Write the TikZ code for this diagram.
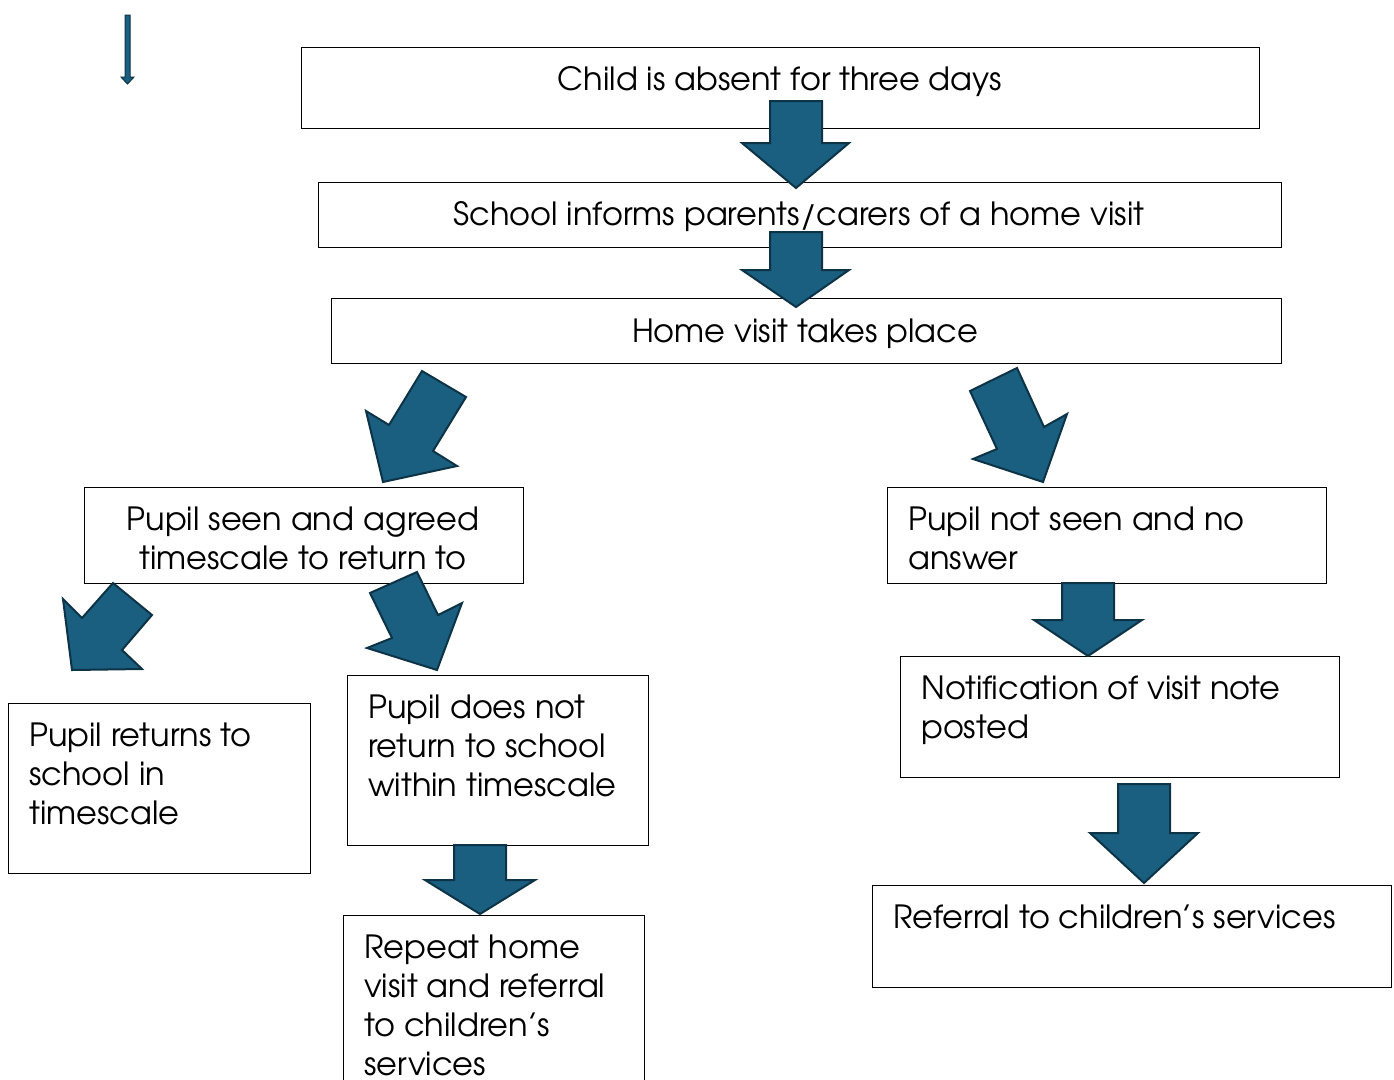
\documentclass[tikz,border=0pt]{standalone}
\usepackage{fontspec}
\setmainfont{texgyreadventor-regular.otf}
\definecolor{arrfill}{HTML}{1A5E80}
\definecolor{arrline}{HTML}{0D3346}
\tikzset{
 box/.style={draw=black, line width=1.2pt, inner sep=0pt, anchor=north west},
 blk/.style={fill=arrfill, draw=arrline, line width=2pt, line join=miter},
 txt/.style={inner sep=0pt, font=\fontsize{32}{39}\selectfont},
}
\newcommand{\ltext}[1]{\begin{tabular}[t]{@{}l@{}}#1\end{tabular}}
\newcommand{\ctext}[1]{\begin{tabular}[t]{@{}c@{}}#1\end{tabular}}
\begin{document}
\begin{tikzpicture}[x=1pt,y=-1pt]
\useasboundingbox (0,0) rectangle (1394,1079);
\clip (0,0) rectangle (1394,1079);
% boxes
\node[box, minimum width=958pt, minimum height=81pt] (b1) at (301,47) {};
\node[box, minimum width=963pt, minimum height=65pt] (b2) at (318,182) {};
\node[box, minimum width=950pt, minimum height=65pt] (b3) at (331,298) {};
\node[box, minimum width=439pt, minimum height=96pt] (b4) at (84,487) {};
\node[box, minimum width=439pt, minimum height=96pt] (b5) at (887,487) {};
\node[box, minimum width=439pt, minimum height=121pt] (b6) at (900,656) {};
\node[box, minimum width=302pt, minimum height=170pt] (b7) at (8,703) {};
\node[box, minimum width=301pt, minimum height=170pt] (b8) at (347,675) {};
\node[box, minimum width=301pt, minimum height=190pt] (b9) at (343,915) {};
\node[box, minimum width=519pt, minimum height=102pt] (b10) at (872,885) {};
% texts
\node[txt, anchor=base] (t1) at (780,90) {Child is absent for three days};
\node[txt, anchor=base] (t2) at (799,225) {School informs parents/carers of a home visit};
\node[txt, anchor=base] (t3) at (805,342) {Home visit takes place};
\node[txt, anchor=base] (t4) at (303,530) {\ctext{Pupil seen and agreed\\timescale to return to}};
\node[txt, anchor=base west] (t5) at (908,530) {\ltext{Pupil not seen and no\\answer}};
\node[txt, anchor=base west] (t6) at (921,699) {\ltext{Notification of visit note\\posted}};
\node[txt, anchor=base west] (t7) at (29,746) {\ltext{Pupil returns to\\school in\\timescale}};
\node[txt, anchor=base west] (t8) at (368,718) {\ltext{Pupil does not\\return to school\\within timescale}};
\node[txt, anchor=base west] (t9) at (364,958) {\ltext{Repeat home\\visit and referral\\to children’s\\services}};
\node[txt, anchor=base west] (t10) at (893,928) {Referral to children’s services};
% block arrows
\draw[blk] (770,101) -- (822,101) -- (822,143) -- (849,143) -- (796,188) -- (742,143) -- (770,143) -- cycle;
\draw[blk] (770,232) -- (822,232) -- (822,270) -- (849,270) -- (796,307) -- (742,270) -- (770,270) -- cycle;
\draw[blk] (422,371) -- (466,397) -- (433,451) -- (457,466) -- (383,482) -- (366,411) -- (389,425) -- cycle;
\draw[blk] (970,391) -- (1017,368) -- (1044,427) -- (1067,414) -- (1043,482) -- (973,459) -- (997,449) -- cycle;
\draw[blk] (113,583) -- (152,615) -- (122,650) -- (142,669) -- (72,670) -- (63,599) -- (82,618) -- cycle;
\draw[blk] (370,593) -- (417,572) -- (438,615) -- (462,603) -- (437,670) -- (367,648) -- (392,638) -- cycle;
\draw[blk] (1062,583) -- (1114,583) -- (1114,620) -- (1142,620) -- (1088,656) -- (1034,620) -- (1062,620) -- cycle;
\draw[blk] (1118,784) -- (1170,784) -- (1170,833) -- (1198,833) -- (1144,883) -- (1090,833) -- (1118,833) -- cycle;
\draw[blk] (454,845) -- (506,845) -- (506,880) -- (535,880) -- (480,914) -- (425,880) -- (454,880) -- cycle;
% small arrow top left
\draw[blk, line width=1pt] (125,15) -- (130,15) -- (130,77) -- (134,77) -- (127.5,84) -- (121,77) -- (125,77) -- cycle;
\end{tikzpicture}
\end{document}
